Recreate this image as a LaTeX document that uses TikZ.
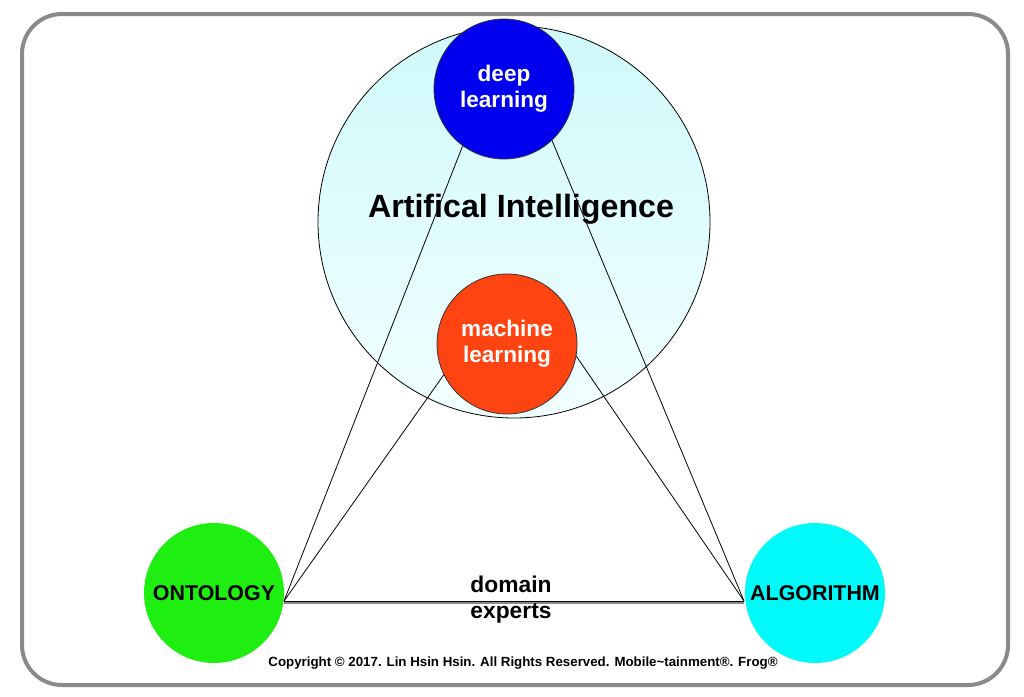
\documentclass[tikz,border=0pt]{standalone}
\usepackage{fontspec}
\setmainfont{Liberation Sans}
\usepackage{tikz}
\usetikzlibrary{calc}
\definecolor{framegray}{HTML}{8A8A8A}
\definecolor{aitop}{HTML}{CFF9FA}
\definecolor{aibottom}{HTML}{F2FFFF}
\definecolor{dlblue}{HTML}{0000EE}
\definecolor{mlred}{HTML}{FF4412}
\definecolor{ontogreen}{HTML}{1EEE10}
\definecolor{algocyan}{HTML}{00FAFA}
\definecolor{darkgray}{HTML}{333333}
\tikzset{
  field/.style={
    circle, minimum size=392pt, inner sep=0pt,
    draw=black, line width=0.8pt,
    top color=aitop, bottom color=aibottom,
  },
  topic/.style={
    circle, minimum size=140pt, inner sep=0pt,
    align=center, font=\fontsize{22.6}{26}\selectfont\bfseries,
  },
  inner/.style={topic, draw=darkgray, line width=0.8pt, text=white},
  outer/.style={topic, font=\fontsize{21.4}{24}\selectfont\bfseries},
  link/.style={draw=black, line width=0.8pt},
  base/.style={
    draw=black, line width=0.8pt,
    preaction={draw=framegray, line width=3pt, transform canvas={yshift=-1.6pt}},
  },
}
\begin{document}
\begin{tikzpicture}[x=1pt, y=-1pt]
  \useasboundingbox (0,0) rectangle (1024,696);
  \fill[white] (0,0) rectangle (1024,696);
  \draw[framegray, line width=4pt, rounded corners=40pt] (22,14) rectangle (1008,685);
  % circles
  \node[field] (ai) at (514,222) {};
  \node[font=\fontsize{32.2}{36}\selectfont\bfseries] (title) at (521,209) {Artifical Intelligence};
  \node[inner, fill=dlblue] (dl) at (504,89) {deep\\learning};
  \node[inner, fill=mlred] (ml) at (507,344) {machine\\learning};
  \node[outer, fill=ontogreen] (onto) at (214,593) {ONTOLOGY};
  \node[outer, fill=algocyan] (algo) at (815,593) {ALGORITHM};
  \coordinate (ontoR) at ($(onto.center)+(70,8)$);
  \coordinate (algoL) at ($(algo.center)+(-71,8)$);
  % connectors
  \draw[link] (ontoR)--(dl.234);
  \draw[link] (ontoR)--(ml.206);
  \draw[link] (algoL)--(dl.313);
  \draw[link] (algoL)--(ml.350);
  \draw[base] (ontoR)--(algoL);
  \node[align=center, font=\fontsize{22.8}{26}\selectfont\bfseries] (experts) at (511,600) {domain\\experts};
  \node[font=\fontsize{13.3}{15}\selectfont\bfseries] (copy) at (523,663)
    {Copyright \textcopyright{} 2017. Lin Hsin Hsin. All Rights Reserved. Mobile\textasciitilde tainment\textregistered. Frog\textregistered};
\end{tikzpicture}
\end{document}
